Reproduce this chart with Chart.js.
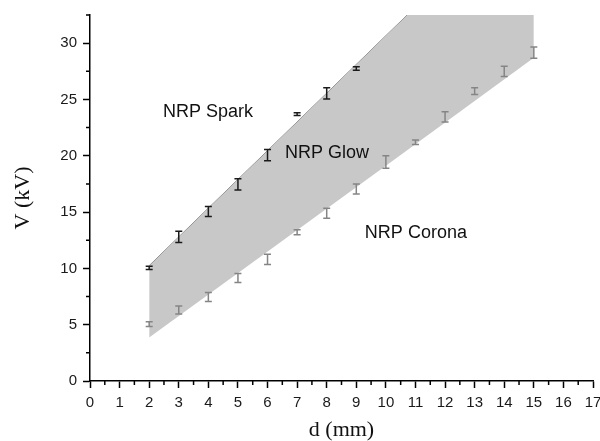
<!DOCTYPE html>
<html>
<head>
<meta charset="utf-8">
<script src="https://cdn.jsdelivr.net/npm/chart.js@4/dist/chart.umd.min.js"></script>
<style>
    html, body { margin: 0; padding: 0; background: #fff; }
    #wrap { width: 600px; height: 441px; }
</style>
</head>
<body>
<div id="wrap"><canvas id="chart"></canvas></div>
<script>
// Breakdown voltage vs gap distance

// Measured points
const gapMm = [2, 3, 4, 5, 6, 7, 8, 9, 10, 11, 12, 13, 14, 15];
const sparkV = [10.05, 12.8, 15.05, 17.45, 20.05, 23.7, 25.55, 27.75];
const sparkErr = [0.15, 0.5, 0.45, 0.5, 0.5, 0.12, 0.5, 0.15];
const coronaV = [5.05, 6.3, 7.45, 9.15, 10.8, 13.2, 14.9, 17.05, 19.45, 21.2, 23.45, 25.75, 27.5, 29.15];
const coronaErr = [0.22, 0.35, 0.4, 0.4, 0.45, 0.22, 0.45, 0.45, 0.55, 0.2, 0.45, 0.3, 0.45, 0.5];

// Glow region boundaries
const boundaryX = [2, 10.72, 15];
const sparkBoundary = [10.24, 32.5, 32.5];
const coronaBoundary = [3.86, 20.5, 28.7];

// Axis ticks
const xTicks = [0, 1, 2, 3, 4, 5, 6, 7, 8, 9, 10, 11, 12, 13, 14, 15, 16, 17];
const yTicks = [0, 5, 10, 15, 20, 25, 30];

// Region names
const regionLabels = [
    { text: "NRP Spark", x: 2.47, y: 23.9 },
    { text: "NRP Glow", x: 6.59, y: 20.2 },
    { text: "NRP Corona", x: 9.29, y: 13.1 }
];

function toPoints(xs, ys) {
    return ys.map((y, i) => ({ x: xs[i], y: y }));
}

const errorBarPlugin = {
    id: "errorBars",
    afterDatasetsDraw(chart) {
        const { ctx, scales: { x, y } } = chart;
        const drawBars = (values, errs, color) => {
            ctx.save();
            ctx.strokeStyle = color;
            ctx.lineWidth = 1.5;
            values.forEach((v, i) => {
                const px = x.getPixelForValue(gapMm[i]);
                const top = y.getPixelForValue(v + errs[i]);
                const bot = y.getPixelForValue(v - errs[i]);
                ctx.beginPath();
                ctx.moveTo(px, top);
                ctx.lineTo(px, bot);
                ctx.moveTo(px - 3.5, top);
                ctx.lineTo(px + 3.5, top);
                ctx.moveTo(px - 3.5, bot);
                ctx.lineTo(px + 3.5, bot);
                ctx.stroke();
            });
            ctx.restore();
        };
        drawBars(coronaV, coronaErr, "#858585");
        drawBars(sparkV, sparkErr, "#1a1a1a");

        // region names
        ctx.save();
        ctx.fillStyle = "#111";
        ctx.font = "18px 'Liberation Sans', Arial, sans-serif";
        ctx.textBaseline = "middle";
        regionLabels.forEach(l => {
            ctx.fillText(l.text, x.getPixelForValue(l.x), y.getPixelForValue(l.y));
        });
        ctx.restore();
    },
    afterDraw(chart) {
        // minor ticks
        const { ctx, scales: { x, y } } = chart;
        ctx.save();
        ctx.strokeStyle = "#000";
        ctx.lineWidth = 1.5;
        ctx.beginPath();
        for (let v = 0.5; v < 17; v += 1) {
            const px = x.getPixelForValue(v);
            ctx.moveTo(px, x.top);
            ctx.lineTo(px, x.top + 4);
        }
        for (let v = 2.5; v <= 32.5; v += 5) {
            const py = y.getPixelForValue(v);
            ctx.moveTo(y.right, py);
            ctx.lineTo(y.right - 4, py);
        }
        ctx.stroke();
        ctx.restore();
    }
};

const ctx = document.getElementById("chart");

new Chart(ctx, {
    type: "scatter",
    data: {
        datasets: [
            {
                label: "Corona boundary",
                data: toPoints(boundaryX, coronaBoundary),
                showLine: true,
                borderWidth: 0,
                borderColor: "rgba(0,0,0,0)",
                pointRadius: 0,
                fill: false
            },
            {
                label: "Glow region",
                data: toPoints(boundaryX, sparkBoundary),
                showLine: true,
                borderWidth: 0,
                borderColor: "rgba(0,0,0,0)",
                backgroundColor: "#c8c8c8",
                pointRadius: 0,
                fill: "-1"
            },
            {
                label: "Spark boundary",
                data: toPoints(boundaryX.slice(0, 2), sparkBoundary.slice(0, 2)),
                showLine: true,
                borderWidth: 1,
                borderColor: "#6e6e6e",
                pointRadius: 0,
                fill: false
            }
        ]
    },
    options: {
        responsive: true,
        maintainAspectRatio: false,
        animation: false,
        layout: { padding: { top: 13, right: 0, bottom: 0, left: 0 } },
        plugins: {
            legend: { display: false },
            tooltip: { enabled: false }
        },
        scales: {
            x: {
                type: "linear",
                min: 0,
                max: 17,
                afterFit: s => { s.height = 60; s.paddingRight = 7; },
                afterBuildTicks: s => { s.ticks = xTicks.map(v => ({ value: v })); },
                border: { display: true, color: "#000", width: 1.5 },
                grid: { drawOnChartArea: false, drawTicks: true, tickLength: 7, tickColor: "#000", tickWidth: 1.5 },
                ticks: {
                    padding: 6,
                    color: "#1a1a1a",
                    maxRotation: 0,
                    font: { family: "'Liberation Sans', Arial, sans-serif", size: 15 }
                },
                title: {
                    display: true,
                    text: "d (mm)",
                    color: "#111",
                    padding: { top: 0, bottom: 0 },
                    font: { family: "'Liberation Serif', 'Times New Roman', serif", size: 22, lineHeight: 1 }
                }
            },
            y: {
                type: "linear",
                min: 0,
                max: 32.5,
                afterFit: s => { s.width = 90; },
                afterBuildTicks: s => { s.ticks = yTicks.map(v => ({ value: v })); },
                border: { display: true, color: "#000", width: 1.5 },
                grid: { drawOnChartArea: false, drawTicks: true, tickLength: 7, tickColor: "#000", tickWidth: 1.5 },
                ticks: {
                    padding: 6,
                    color: "#1a1a1a",
                    font: { family: "'Liberation Sans', Arial, sans-serif", size: 15 }
                },
                title: {
                    display: true,
                    text: "V (kV)",
                    color: "#111",
                    padding: { top: 12, bottom: 0 },
                    font: { family: "'Liberation Serif', 'Times New Roman', serif", size: 22, lineHeight: 1 }
                }
            }
        }
    },
    plugins: [errorBarPlugin]
});
</script>
</body>
</html>
